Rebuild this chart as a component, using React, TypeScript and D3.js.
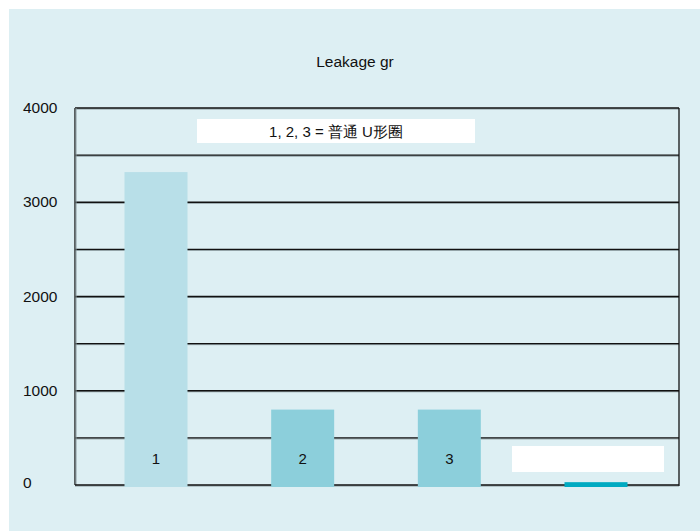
import React from "react";
import * as d3 from "d3";

const categories = ["1", "2", "3", "4"];
const values = [3320, 800, 800, 30];
const barLabels = ["1", "2", "3", ""];
const barColors = ["#b8dfe8", "#8ccfdb", "#8ccfdb", "#00aac1"];
const yTicks = [0, 1000, 2000, 3000, 4000];
const gridValues = [500, 1000, 1500, 2000, 2500, 3000, 3500, 4000];
const title = "Leakage gr";
const noteText = "1, 2, 3 = 普通 U形圈";

const W = 700;
const H = 531;
const left = 75;
const right = 679;
const top = 108;
const bottom = 485;
const barW = 63;

export default function App() {
  const y = d3.scaleLinear().domain([0, 4000]).range([bottom, top]);
  const x = d3.scalePoint<string>().domain(categories).range([156, 596]);
  const font = "'Liberation Sans', Arial, sans-serif";
  return (
    <svg
      width={W}
      height={H}
      style={{ position: "absolute", left: 0, top: 0 }}
      fontFamily={font}
    >
      <rect x={0} y={0} width={W} height={H} fill="#ffffff" />
      <rect x={9} y={9} width={W - 9} height={H - 9} fill="#ddeff3" />
      <text x={355} y={67} textAnchor="middle" fontSize={15.5} fill="#111">
        {title}
      </text>
      {gridValues.map((v) => (
        <g key={v}>
          <line x1={left} x2={right} y1={y(v) + 1} y2={y(v) + 1} stroke="#8a9a9e" strokeWidth={1} />
          <line x1={left} x2={right} y1={y(v)} y2={y(v)} stroke="#111" strokeWidth={1.3} />
        </g>
      ))}
      {yTicks.map((v) => (
        <text key={v} x={23} y={y(v) + (v === 0 ? 3 : 5)} textAnchor="start" fontSize={15.5} fill="#111">
          {v}
        </text>
      ))}
      <rect x={197} y={119} width={278} height={24} fill="#ffffff" />
      <text x={336} y={137} textAnchor="middle" fontSize={15} fill="#111">
        {noteText}
      </text>
      <rect x={512} y={446} width={152} height={26} fill="#ffffff" />
      <line x1={left} x2={left} y1={top} y2={bottom} stroke="#111" strokeWidth={1.3} />
      <line x1={left + 1} x2={left + 1} y1={top} y2={bottom} stroke="#8a9a9e" strokeWidth={1} />
      <line x1={right} x2={right} y1={top} y2={bottom + 1} stroke="#111" strokeWidth={1.3} />
      <line x1={left} x2={right} y1={bottom + 1} y2={bottom + 1} stroke="#8a9a9e" strokeWidth={1} />
      <line x1={left} x2={right} y1={bottom} y2={bottom} stroke="#111" strokeWidth={1.3} />
      {categories.map((c, i) => (
        <rect
          key={c}
          x={(x(c) as number) - barW / 2}
          y={y(values[i])}
          width={barW}
          height={Math.max(0, bottom + 2 - y(values[i]))}
          fill={barColors[i]}
        />
      ))}
      {categories.map((c, i) => (
        <text
          key={"l" + c}
          x={x(c) as number}
          y={464}
          textAnchor="middle"
          fontSize={15}
          fill="#111"
        >
          {barLabels[i]}
        </text>
      ))}
    </svg>
  );
}
